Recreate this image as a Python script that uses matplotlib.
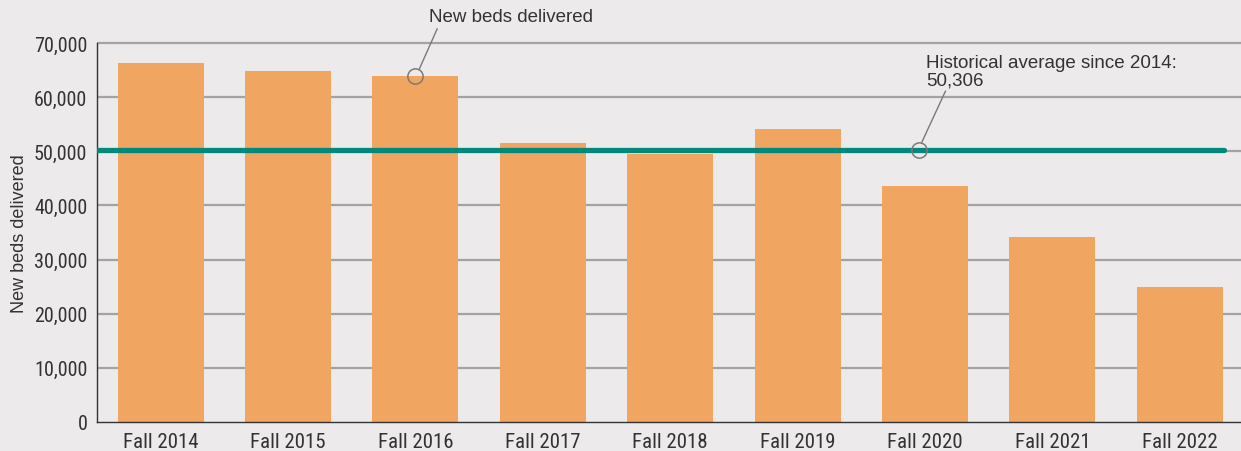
import matplotlib
matplotlib.use("Agg")
import matplotlib.pyplot as plt

categories = ["Fall 2014", "Fall 2015", "Fall 2016", "Fall 2017", "Fall 2018",
              "Fall 2019", "Fall 2020", "Fall 2021", "Fall 2022"]
beds = [66300, 64800, 63900, 51500, 49500, 54100, 43600, 34200, 24900]
average = 50306
yticks = [0, 10000, 20000, 30000, 40000, 50000, 60000, 70000]

narrow = ["Roboto Condensed", "Archivo Narrow", "DejaVu Sans"]
regular = ["Liberation Sans", "DejaVu Sans"]

bg = "#ECEAEB"
bar_c = "#F0A561"
teal = "#00897B"
txt = "#333333"
grid_c = "#A3A3A3"

fig = plt.figure(figsize=(12.41, 4.52), dpi=100, facecolor=bg)
ax = fig.add_axes([97 / 1241, 29 / 452, 1 - 97 / 1241, 423 / 452])
ax.set_facecolor(bg)

x = list(range(len(categories)))
ax.set_xlim(-0.5, 8.48)
ax.set_ylim(0, 78130)

for t in yticks[1:]:
    ax.axhline(t, color=grid_c, lw=1.6, zorder=1)

ax.bar(x, beds, width=0.675, color=bar_c, zorder=2)

ax.hlines(average, -0.5, 8.35, color=teal, lw=3.8, zorder=3, capstyle="round")

ax.set_yticks(yticks)
ax.set_yticklabels([f"{v:,}" for v in yticks], fontfamily=narrow, fontsize=14.5, color=txt)
ax.set_xticks(x)
ax.set_xticklabels(categories, fontfamily=narrow, fontsize=15, color=txt)
ax.tick_params(axis="both", length=0)
ax.tick_params(axis="y", pad=7)
ax.tick_params(axis="x", pad=7)

for s in ["top", "right"]:
    ax.spines[s].set_visible(False)
ax.spines["left"].set_bounds(0, 70000)
ax.spines["left"].set_color(txt)
ax.spines["bottom"].set_color(txt)
ax.spines["left"].set_linewidth(1.0)
ax.spines["bottom"].set_linewidth(1.0)

ax.set_ylabel("New beds delivered", fontfamily=regular, fontsize=13, color=txt)
ax.yaxis.set_label_coords(-0.060, 70000 / 2 / 78130)

# Annotation: new beds delivered
ax.plot([2.03, 2.17], [65200, 72600], color="#7a7a7a", lw=1, zorder=4, clip_on=False)
ax.plot([2], [beds[2]], marker="o", ms=11, mfc="none", mec="#7a7a7a", mew=1.1, zorder=5, clip_on=False)
ax.text(2.11, 74900, "New beds delivered", fontfamily=regular, fontsize=13.5, color=txt,
        va="center", ha="left")

# Annotation: historical average
ax.plot([5.975, 6.16], [51700, 61100], color="#7a7a7a", lw=1, zorder=4, clip_on=False)
ax.plot([5.95], [average], marker="o", ms=11, mfc="none", mec="#7a7a7a", mew=1.1, zorder=5, clip_on=False)
ax.text(6.01, 64800, "Historical average since 2014:\n" + f"{average:,}", fontfamily=regular,
        fontsize=13.5, color=txt, va="center", ha="left", linespacing=1.0)

fig.savefig("out.png", dpi=100, facecolor=bg)
